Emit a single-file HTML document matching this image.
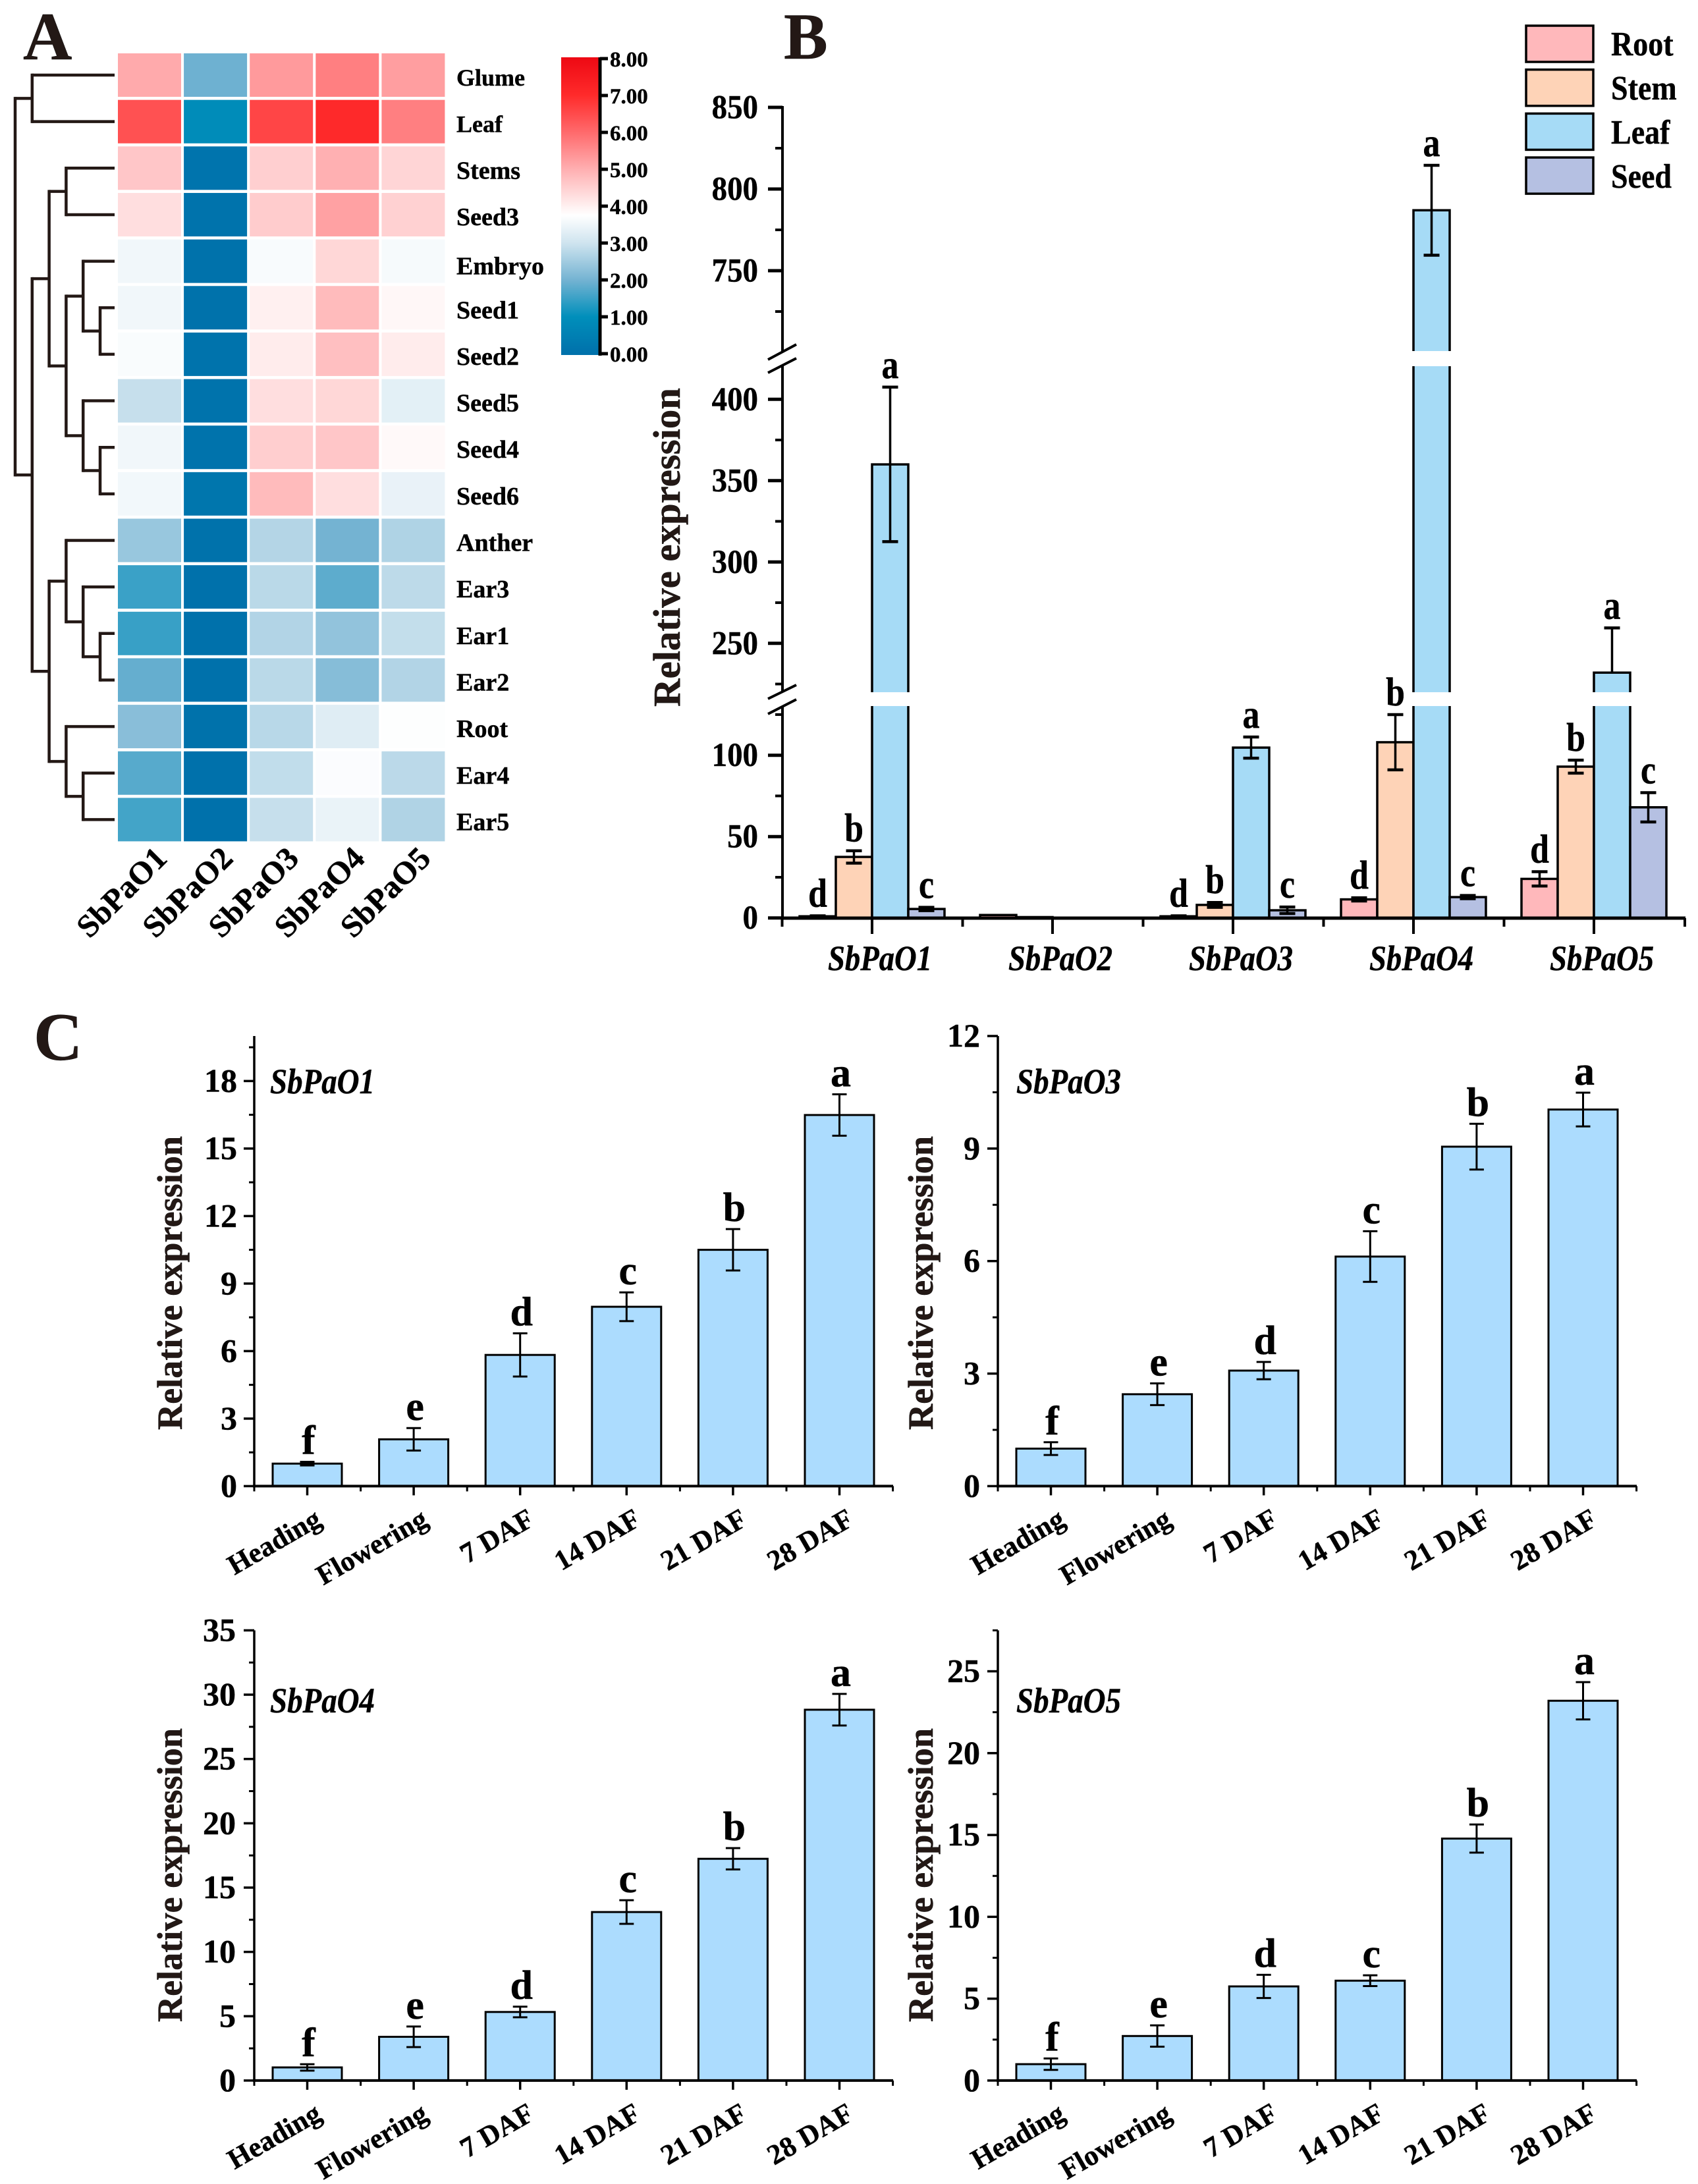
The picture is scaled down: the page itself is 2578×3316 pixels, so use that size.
<!DOCTYPE html>
<html lang="en">
<head>
<meta charset="utf-8">
<title>SbPaO expression figure</title>
<style>
html,body{margin:0;padding:0;background:#fff;}
svg{display:block;font-family:"Liberation Serif",serif;font-weight:bold;}
svg text{stroke:#111;stroke-width:0.5px;}
</style>
</head>
<body>
<svg id="figure" xmlns="http://www.w3.org/2000/svg" width="2578" height="3316" viewBox="0 0 2578 3316">
  <rect x="0" y="0" width="2578" height="3316" fill="#ffffff"/>
  <text x="35" y="90" font-size="103" fill="#231815">A</text>
  <text x="1190" y="89" font-size="100" fill="#231815">B</text>
  <text x="51" y="1609" font-size="103" fill="#231815">C</text>
  <text transform="translate(1032,831) rotate(-90)" text-anchor="middle" font-size="58" textLength="484" lengthAdjust="spacingAndGlyphs" fill="#231815">Relative expression</text>
  <text transform="translate(276,1948) rotate(-90)" text-anchor="middle" font-size="54" textLength="446" lengthAdjust="spacingAndGlyphs" fill="#231815">Relative expression</text>
  <text transform="translate(1416,1948) rotate(-90)" text-anchor="middle" font-size="54" textLength="446" lengthAdjust="spacingAndGlyphs" fill="#231815">Relative expression</text>
  <text transform="translate(276,2847) rotate(-90)" text-anchor="middle" font-size="54" textLength="446" lengthAdjust="spacingAndGlyphs" fill="#231815">Relative expression</text>
  <text transform="translate(1416,2847) rotate(-90)" text-anchor="middle" font-size="54" textLength="446" lengthAdjust="spacingAndGlyphs" fill="#231815">Relative expression</text>
  <text x="410" y="1660" font-size="54" font-style="italic" textLength="159" lengthAdjust="spacingAndGlyphs" fill="#000">SbPaO1</text>
  <text x="1543" y="1660" font-size="54" font-style="italic" textLength="159" lengthAdjust="spacingAndGlyphs" fill="#000">SbPaO3</text>
  <text x="410" y="2600" font-size="54" font-style="italic" textLength="159" lengthAdjust="spacingAndGlyphs" fill="#000">SbPaO4</text>
  <text x="1543" y="2600" font-size="54" font-style="italic" textLength="159" lengthAdjust="spacingAndGlyphs" fill="#000">SbPaO5</text>
</svg>
<script>
/* ---------- Panel A data ---------- */
const heatRows = ['Glume','Leaf','Stems','Seed3','Embryo','Seed1','Seed2','Seed5','Seed4','Seed6','Anther','Ear3','Ear1','Ear2','Root','Ear4','Ear5'];
const heatCols = ['SbPaO1','SbPaO2','SbPaO3','SbPaO4','SbPaO5'];
const heatGlume  = [5.07,1.95,5.30,5.70,5.25];
const heatLeaf   = [6.40,0.90,6.58,7.05,5.70];
const heatStems  = [4.64,0.10,4.51,4.98,4.42];
const heatSeed3  = [4.27,0.05,4.56,5.20,4.48];
const heatEmbryo = [3.53,0.03,3.64,4.39,3.61];
const heatSeed1  = [3.53,0.03,4.00,4.82,3.88];
const heatSeed2  = [3.66,0.05,4.06,4.75,4.06];
const heatSeed5  = [2.90,0.08,4.27,4.39,3.32];
const heatSeed4  = [3.53,0.08,4.53,4.64,3.85];
const heatSeed6  = [3.55,0.15,4.82,4.27,3.40];
const heatAnther = [2.40,0.03,2.70,2.00,2.65];
const heatEar3   = [1.50,0.00,2.77,1.80,2.80];
const heatEar1   = [1.48,0.00,2.68,2.33,2.87];
const heatEar2   = [1.87,0.00,2.77,2.20,2.68];
const heatRoot   = [2.23,0.03,2.75,3.25,3.72];
const heatEar4   = [1.75,0.00,2.85,3.68,2.78];
const heatEar5   = [1.58,0.00,2.90,3.42,2.66];
const heatValues = [heatGlume,heatLeaf,heatStems,heatSeed3,heatEmbryo,heatSeed1,heatSeed2,heatSeed5,heatSeed4,heatSeed6,heatAnther,heatEar3,heatEar1,heatEar2,heatRoot,heatEar4,heatEar5];
const colorbarLabels = ['0.00','1.00','2.00','3.00','4.00','5.00','6.00','7.00','8.00'];
const colormapValues = [0,1,2,3,3.75,4,5,6,7,8];
const colormapColors = ['#0071ab','#008fbb','#74b3d2','#cfe4ef','#ffffff','#fff0f0','#ffafb1','#ff6a6c','#ff2b2b','#ee0a14'];
/* Cluster tree: a number is a row index, an array is [depth, childA, childB] */
const clusterTree = [0,
  [1,0,1],
  [1,
    [2,[3,2,3],[3,[4,4,[5,5,6]],[4,7,[5,8,9]]]],
    [2,[3,10,[4,11,[5,12,13]]],[3,14,[4,15,16]]]
  ]
];

/* ---------- Panel B data ---------- */
const bGenes = ['SbPaO1','SbPaO2','SbPaO3','SbPaO4','SbPaO5'];
const bSeries = ['Root','Stem','Leaf','Seed'];
const bRootValues = [1,1.8,1,11.4,24];
const bRootErrors = [0.3,0,0.3,1,4.4];
const bRootLetters = ['d','','d','d','d'];
const bStemValues = [37.5,0.5,8,108,93];
const bStemErrors = [3.8,0,1.5,17,4];
const bStemLetters = ['b','','b','b','b'];
const bLeafValues = [360,0.1,104.7,787,232];
const bLeafErrors = [47.5,0,6.5,27.5,27.5];
const bLeafLetters = ['a','','a','a','a'];
const bSeedValues = [5.5,0.1,4.7,12.8,68];
const bSeedErrors = [1,0,2,1,9];
const bSeedLetters = ['c','','c','c','c'];
const bMajorTicks = [0,50,100,250,300,350,400,750,800,850];
const bMinorTicks = [25,75,125,225,275,325,375,725,775,825];

/* ---------- Panel C data ---------- */
const stages = ['Heading','Flowering','7 DAF','14 DAF','21 DAF','28 DAF'];
const stageLetters = ['f','e','d','c','b','a'];
const o1Values = [1.0,2.08,5.83,7.97,10.5,16.49];
const o1Errors = [0.08,0.5,0.96,0.64,0.92,0.92];
const o1Ticks = [0,3,6,9,12,15,18];
const o1Minor = [1.5,4.5,7.5,10.5,13.5,16.5,19.5];
const o3Values = [1.0,2.45,3.08,6.12,9.05,10.04];
const o3Errors = [0.17,0.29,0.23,0.675,0.61,0.45];
const o3Ticks = [0,3,6,9,12];
const o3Minor = [1.5,4.5,7.5,10.5];
const o4Values = [1.02,3.4,5.33,13.1,17.24,28.83];
const o4Errors = [0.25,0.8,0.41,0.92,0.83,1.23];
const o4Ticks = [0,5,10,15,20,25,30,35];
const o4Minor = [2.5,7.5,12.5,17.5,22.5,27.5,32.5];
const o5Values = [1.0,2.72,5.75,6.1,14.78,23.2];
const o5Errors = [0.35,0.65,0.71,0.33,0.86,1.14];
const o5Ticks = [0,5,10,15,20,25];
const o5Minor = [2.5,7.5,12.5,17.5,22.5,27.5];

/* ---------- helpers ---------- */
const NS = 'http://www.w3.org/2000/svg';
const svg = document.getElementById('figure');
const INK = '#231815';
function make(tag, attrs, parent) {
  const el = document.createElementNS(NS, tag);
  for (const k in attrs) el.setAttribute(k, attrs[k]);
  (parent || svg).appendChild(el);
  return el;
}
function group(name) {
  const el = make('g', {});
  
  
  return el;
}
function line(x1, y1, x2, y2, w, name, parent, color, cap) {
  const el = make('line', {x1:x1, y1:y1, x2:x2, y2:y2, stroke:color || '#000', 'stroke-width':w, 'stroke-linecap':cap || 'butt'}, parent);
  
  
  return el;
}
function label(x, y, str, size, name, parent, extra) {
  const el = make('text', Object.assign({x:x, y:y, 'font-size':size, fill:'#000'}, extra || {}), parent);
  el.textContent = str;
  
  
  return el;
}
function hexToRgb(h) { return [1,3,5].map(i => parseInt(h.substr(i,2),16)); }
function colorFor(v) {
  let i = 0;
  while (i < colormapValues.length - 2 && v > colormapValues[i+1]) i++;
  const t = Math.max(0, Math.min(1, (v - colormapValues[i]) / (colormapValues[i+1] - colormapValues[i])));
  const a = hexToRgb(colormapColors[i]), b = hexToRgb(colormapColors[i+1]);
  return 'rgb(' + a.map((c,k) => Math.round(c + (b[k]-c)*t)).join(',') + ')';
}

/* ---------- Panel A: heatmap ---------- */
const heatX = col => 179 + col * 100.1;
const heatY = row => 81 + row * 70.65;
const rowCenter = row => heatY(row) + 33;
const heatGroup = group('heatmap');
heatValues.forEach((vals, r) => {
  vals.forEach((v, c) => {
    const cell = make('rect', {x:heatX(c), y:heatY(r), width:96, height:66, fill:colorFor(v)}, heatGroup);
    
    
  });
  const name = heatRows[r];
  const rowOffset = name === 'Embryo' ? 20 : 16;
  const rowFont = name === 'Glume' || name === 'Leaf' ? 36 : 38;
  label(693, rowCenter(r) + rowOffset, name, rowFont, 'row-label-' + name.toLowerCase(), heatGroup);
});
heatCols.forEach((name, c) => {
  const px = heatX(c) + 77, py = 1306;
  label(0, 0, name, 48.5, 'column-label-' + name.toLowerCase(), heatGroup,
    {'text-anchor':'end', transform:'translate(' + px + ',' + py + ') rotate(-45)'});
});

/* dendrogram */
const dendroGroup = group('row-dendrogram');
const depthX = d => 23 + 25.8 * d;
function drawNode(node) {
  if (typeof node === 'number') return {x:174, y:rowCenter(node)};
  const a = drawNode(node[1]), b = drawNode(node[2]);
  const x = depthX(node[0]);
  line(x, a.y, x, b.y, 4.5, 'dendrogram-stem', dendroGroup, INK, 'square');
  line(x, a.y, a.x, a.y, 4.5, 'dendrogram-branch', dendroGroup, INK);
  line(x, b.y, b.x, b.y, 4.5, 'dendrogram-branch', dendroGroup, INK);
  return {x:x, y:(a.y + b.y) / 2};
}
drawNode(clusterTree);

/* colorbar */
const colorbarGroup = group('colorbar');
const cbY = v => 537 - v * 56;
const defs = make('defs', {});
const grad = make('linearGradient', {id:'cbGradient', x1:0, y1:1, x2:0, y2:0}, defs);
colormapValues.forEach((v, i) => {
  make('stop', {offset:((cbY(0) + 2 - cbY(v)) / 452), 'stop-color':colormapColors[i]}, grad);
});
const cbRect = make('rect', {x:852, y:87, width:57, height:452, fill:'url(#cbGradient)'}, colorbarGroup);


line(911, 87, 911, 540, 5, 'colorbar-axis', colorbarGroup);
colorbarLabels.forEach((t, i) => {
  line(911, cbY(i), 923, cbY(i), 5, 'colorbar-tick', colorbarGroup);
  label(926, cbY(i) + 12, t, 33, 'colorbar-label-' + i, colorbarGroup);
});

/* ---------- Panel B: broken-axis grouped bars ---------- */
const bGroup = group('panel-b-chart');
function bY(v) {
  if (v <= 130) return 1393.7 - v * 2.47;
  if (v <= 220) return 1051 + (220 - v) * 0.2;
  if (v <= 420) return 976.8 - (v - 250) * 2.47;
  if (v <= 701) return 533 + (701 - v) * 0.08;
  return 411 - (v - 750) * 2.48;
}
const bInBreak = v => v > 130 && v < 220;
const bCenter = i => 1324 + i * 274;
const BAR_W = 55;
const bAllValues = [bRootValues,bStemValues,bLeafValues,bSeedValues];
const bAllErrors = [bRootErrors,bStemErrors,bLeafErrors,bSeedErrors];
const bAllLetters = [bRootLetters,bStemLetters,bLeafLetters,bSeedLetters];
const bColors = ['#ffb8bb','#fed3b7','#a6dbf6','#b5c0e2'];
bAllValues.forEach((vals, s) => {
  vals.forEach((v, g) => {
    const x = bCenter(g) - 2 * BAR_W + s * BAR_W;
    const top = bY(v);
    const bar = make('rect', {x:x, y:top, width:BAR_W, height:1393.7 - top, fill:bColors[s], stroke:'#000', 'stroke-width':3.5}, bGroup);
    
    
  });
});
/* white masks over the axis break */
[[533,556],[1051,1072]].forEach((gap, i) => {
  const mask = make('rect', {x:1150, y:gap[0], width:1410, height:gap[1]-gap[0], fill:'#fff'}, bGroup);
  
  
});
bAllValues.forEach((vals, s) => {
  vals.forEach((v, g) => {
    const cx = bCenter(g) - 2 * BAR_W + s * BAR_W + BAR_W / 2;
    const e = bAllErrors[s][g];
    const hi = bY(v + e);
    if (e > 0) {
      const lowVal = v - e;
      const lowHidden = bInBreak(lowVal);
      const lo = lowHidden ? bY(v) : bY(lowVal);
      const errName = 'error-bar-' + bGenes[g].toLowerCase() + '-' + bSeries[s].toLowerCase();
      line(cx, hi, cx, lo, 3.5, errName, bGroup);
      line(cx - 12, hi, cx + 12, hi, 4.5, errName + '-cap-top', bGroup);
      if (!lowHidden) line(cx - 12, lo, cx + 12, lo, 4.5, errName + '-cap-bottom', bGroup);
    }
    const letter = bAllLetters[s][g];
    if (letter) {
      label(0, 0, letter, 61, 'significance-' + bGenes[g].toLowerCase() + '-' + bSeries[s].toLowerCase(), bGroup,
        {'text-anchor':'middle', transform:'translate(' + cx + ',' + (hi - 14) + ') scale(0.85,1)'});
    }
  });
});
/* axes */
line(1188, 163, 1188, 533, 4, 'panel-b-y-axis-upper', bGroup, '#000', 'square');
line(1188, 556, 1188, 1051, 4, 'panel-b-y-axis-middle', bGroup);
line(1188, 1072, 1188, 1394, 4, 'panel-b-y-axis-lower', bGroup);
line(1166, 546, 1209, 523, 4, 'axis-break-mark', bGroup);
line(1166, 566, 1209, 544, 4, 'axis-break-mark', bGroup);
line(1166, 1061, 1209, 1040, 4, 'axis-break-mark', bGroup);
line(1166, 1084, 1209, 1062, 4, 'axis-break-mark', bGroup);
bMajorTicks.forEach(t => {
  const y = bY(t);
  line(1166, y, 1188, y, 5, 'panel-b-y-tick-' + t, bGroup);
  label(0, 0, String(t), 51, 'panel-b-y-label-' + t, bGroup,
    {'text-anchor':'end', transform:'translate(1151,' + (y + 16.5) + ') scale(0.92,1)'});
});
bMinorTicks.forEach(t => {
  line(1177, bY(t), 1188, bY(t), 4, 'panel-b-y-minor-tick-' + t, bGroup);
});
line(1186, 1394, 2559, 1394, 5, 'panel-b-x-axis', bGroup);
bGenes.forEach((g, i) => {
  line(bCenter(i), 1394, bCenter(i), 1418, 4, 'panel-b-x-tick-' + g.toLowerCase(), bGroup);
  line(bCenter(i) - 136.5, 1394, bCenter(i) - 136.5, 1407, 4, 'panel-b-x-minor-tick', bGroup);
  label(bCenter(i) + 12, 1473, g, 54, 'panel-b-x-label-' + g.toLowerCase(), bGroup,
    {'text-anchor':'middle', 'font-style':'italic', textLength:158, lengthAdjust:'spacingAndGlyphs'});
});
line(2558, 1394, 2558, 1407, 4, 'panel-b-x-minor-tick', bGroup);

/* legend */
const legendGroup = group('legend');
bSeries.forEach((name, i) => {
  const top = 39 + i * 66.7;
  const swatch = make('rect', {x:2317, y:top, width:102, height:55, fill:bColors[i], stroke:'#000', 'stroke-width':3.5}, legendGroup);
  
  
  label(0, 0, name, 52, 'legend-label-' + name.toLowerCase(), legendGroup,
    {transform:'translate(2446,' + (84 + i * 67) + ') scale(0.885,1)'});
});

/* ---------- Panel C: stage bar charts ---------- */
function drawStageChart(gene, values, errors, ticks, minor, yMax, axisX, yTop, yBase, labelEdge) {
  const g = group(gene + '-chart');
  const y = v => yBase - v * (yBase - yTop) / yMax;
  const cx = i => axisX + 80.5 + i * 161.6;
  values.forEach((v, i) => {
    const bar = make('rect', {x:cx(i) - 52.5, y:y(v), width:105, height:yBase - y(v), fill:'#acdcfe', stroke:'#000', 'stroke-width':3}, g);
    
    
    const hi = y(v + errors[i]), lo = y(v - errors[i]);
    line(cx(i), hi, cx(i), lo, 3, gene + '-error-bar', g);
    line(cx(i) - 11, hi, cx(i) + 11, hi, 3, gene + '-error-cap', g);
    line(cx(i) - 11, lo, cx(i) + 11, lo, 3, gene + '-error-cap', g);
    label(cx(i) + 2, hi - 12, stageLetters[i], 62, gene + '-significance-' + stageLetters[i], g, {'text-anchor':'middle'});
    line(cx(i), yBase, cx(i), yBase + 14, 3.5, gene + '-x-tick', g);
    label(0, 0, stages[i], 43, gene + '-x-label-' + stages[i].toLowerCase().replace(' ', '-'), g,
      {'text-anchor':'end', transform:'translate(' + (cx(i) + 24) + ',' + (yBase + 58) + ') rotate(-30)'});
  });
  for (let i = 0; i <= values.length; i++) {
    const mx = axisX + i * 161.6;
    line(mx, yBase, mx, yBase + 8, 3, gene + '-x-minor-tick', g);
  }
  line(axisX, yTop, axisX, yBase + 2, 3.5, gene + '-y-axis', g);
  line(axisX - 2, yBase, axisX + 970, yBase, 4, gene + '-x-axis', g);
  ticks.forEach(t => {
    line(axisX - 16, y(t), axisX, y(t), 3.5, gene + '-y-tick-' + t, g);
    label(labelEdge, y(t) + 16, String(t), 50, gene + '-y-label-' + t, g, {'text-anchor':'end'});
  });
  minor.forEach(t => {
    line(axisX - 8, y(t), axisX, y(t), 3, gene + '-y-minor-tick', g);
  });
}
drawStageChart('sbpao1', o1Values, o1Errors, o1Ticks, o1Minor, 20, 386, 1573, 2256.4, 360);
drawStageChart('sbpao3', o3Values, o3Errors, o3Ticks, o3Minor, 12, 1515, 1573, 2256.4, 1488);
drawStageChart('sbpao4', o4Values, o4Errors, o4Ticks, o4Minor, 35, 386, 2475.4, 3158.9, 358);
drawStageChart('sbpao5', o5Values, o5Errors, o5Ticks, o5Minor, 27.5, 1515, 2475.4, 3158.9, 1488);
</script>
</body>
</html>
